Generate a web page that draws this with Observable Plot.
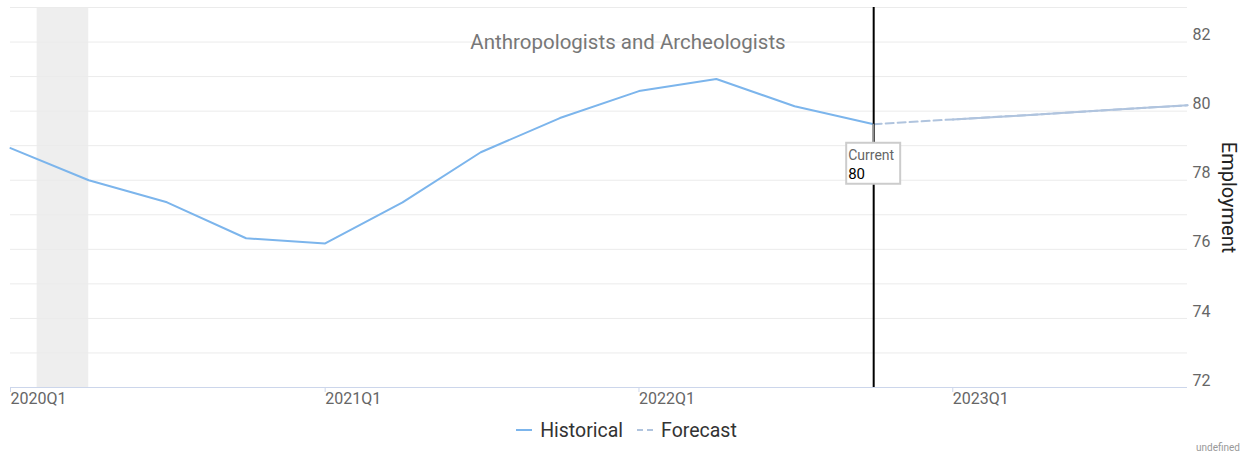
<!DOCTYPE html>
<html>
<head>
<meta charset="utf-8">
<script src="https://cdn.jsdelivr.net/npm/d3@7"></script>
<script src="https://cdn.jsdelivr.net/npm/@observablehq/plot@0.6"></script>
<style>
  html, body { margin: 0; padding: 0; background: #fff; font-family: Roboto, "Noto Sans", sans-serif; }
  #wrap { position: relative; width: 1253px; height: 454px; }
  #legend { position: absolute; left: 0; top: 415px; width: 1253px; height: 30px; display: flex; justify-content: center; align-items: center; font-size: 19.5px; color: #333; }
  .item { display: flex; align-items: center; margin: 0 7px; }
  .sw { width: 16px; height: 0; margin-right: 8px; border-top: 2px solid #7cb5ec; }
  .sw.dash { border-top: 2px dashed #b0c4de; }
  #undef { position: absolute; right: 13px; top: 442px; font-size: 10px; color: #999; }
</style>
</head>
<body>
<div id="wrap">
  <div id="chart"></div>
  <div id="legend">
    <div class="item"><span class="sw"></span>Historical</div>
    <div class="item"><span class="sw dash"></span>Forecast</div>
  </div>
  <div id="undef">undefined</div>
</div>
<script>
// ---- data ----
const title = "Anthropologists and Archeologists";
const histQuarters = ["2020-01-01","2020-04-01","2020-07-01","2020-10-01","2021-01-01","2021-04-01","2021-07-01","2021-10-01","2022-01-01","2022-04-01","2022-07-01","2022-10-01"];
const histValues = [78.93, 78.0, 77.36, 76.32, 76.17, 77.36, 78.81, 79.8, 80.58, 80.93, 80.14, 79.62];
const fcQuarters = ["2022-10-01","2023-01-01","2023-04-01","2023-07-01","2023-10-01"];
const fcValues = [79.62, 79.76, 79.89, 80.03, 80.17];
const recessionStart = ["2020-02-01"];
const recessionEnd = ["2020-04-01"];
const currentQuarter = "2022-10-01";
const currentLabel = "Current";
const currentValue = 80;
const xTickDates = ["2020-01-01","2021-01-01","2022-01-01","2023-01-01"];
const xTickLabels = ["2020Q1","2021Q1","2022Q1","2023Q1"];
const yTicks = [72, 74, 76, 78, 80, 82];
const yGrid = [72, 73, 74, 75, 76, 77, 78, 79, 80, 81, 82, 83];
const yDomain = [72, 83];
const yLabel = "Employment";

// ---- build ----
const P = d3.utcParse("%Y-%m-%d");
const hist = histQuarters.map((q, i) => ({date: P(q), value: histValues[i]}));
const fc = fcQuarters.map((q, i) => ({date: P(q), value: fcValues[i]}));
const fcLater = fc.filter(d => d.date >= P("2023-01-01"));
const rec = recessionStart.map((s, i) => ({x1: P(s), x2: P(recessionEnd[i])}));
const xTicks = xTickDates.map(P);
const tickLabel = new Map(xTickDates.map((d, i) => [+P(d), xTickLabels[i]]));
const cur = hist.find(d => +d.date === +P(currentQuarter));

const font = "Roboto, 'Noto Sans', sans-serif";

function tooltipBox(index, scales) {
  const cx = scales.x(cur.date), cy = scales.y(cur.value);
  const g = d3.create("svg:g").attr("text-anchor", "start");
  g.append("line").attr("x1", cx).attr("x2", cx).attr("y1", cy).attr("y2", cy + 19)
    .attr("stroke", "#999").attr("stroke-width", 1.5);
  g.append("rect").attr("x", cx - 27).attr("y", cy + 19).attr("width", 54).attr("height", 41)
    .attr("fill", "#fff").attr("stroke", "#ccc").attr("stroke-width", 2);
  g.append("text").attr("x", cx - 25).attr("y", cy + 36).attr("fill", "#666").attr("text-anchor", "start")
    .attr("font-size", 14).attr("font-family", font).text(currentLabel);
  g.append("text").attr("x", cx - 25).attr("y", cy + 55).attr("fill", "#000").attr("text-anchor", "start")
    .attr("font-size", 15).attr("font-family", font).text(String(currentValue));
  return g.node();
}

const chart = Plot.plot({
  width: 1253,
  height: 415,
  marginTop: 7,
  marginBottom: 28,
  marginLeft: 10,
  marginRight: 66,
  style: {fontFamily: font, background: "#fff"},
  x: {type: "utc", domain: [P("2020-01-01"), P("2023-10-01")]},
  y: {domain: yDomain},
  marks: [
    Plot.rect(rec, {x1: "x1", x2: "x2", fill: "#eeeeee"}),
    Plot.gridY(yGrid, {stroke: "#ebebeb", strokeOpacity: 1}),
    Plot.ruleY([yDomain[0]], {stroke: "#ccd6eb", strokeWidth: 1}),
    Plot.axisX({ticks: xTicks, tickFormat: d => tickLabel.get(+d), tickSize: 5, tickPadding: 0,
      textAnchor: "start", stroke: "#ccd6eb", fill: "#666", fontSize: 16, label: null}),
    Plot.axisY({anchor: "right", ticks: yTicks, tickSize: 0, tickPadding: 5, textAnchor: "start",
      dy: -7, fill: "#666", fontSize: 16, label: null}),
    Plot.text([yLabel], {frameAnchor: "right", textAnchor: "middle", dx: 41, rotate: 90, fontSize: 20, fill: "#222"}),
    Plot.text([title], {frameAnchor: "top", dx: 29, dy: 27, fontSize: 20.5, fill: "#777"}),
    Plot.line(hist, {x: "date", y: "value", stroke: "#7cb5ec", strokeWidth: 2}),
    Plot.line(fc, {x: "date", y: "value", stroke: "#b0c4de", strokeWidth: 2, strokeDasharray: "8,4"}),
    Plot.line(fcLater, {x: "date", y: "value", stroke: "#b0c4de", strokeWidth: 2}),
    Plot.ruleX([cur], {x: "date", stroke: "#000", strokeWidth: 2}),
    tooltipBox
  ]
});
document.getElementById("chart").appendChild(chart);
</script>
</body>
</html>
